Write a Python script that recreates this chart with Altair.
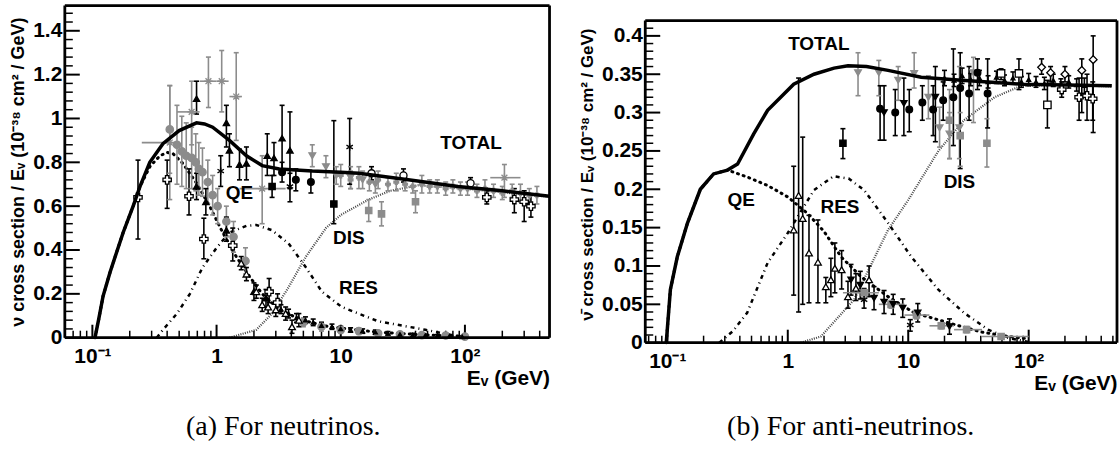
import altair as alt
import pandas as pd

# ======================= curves, panel (a) neutrinos =======================
A_TOTAL_E = [0.105, 0.113, 0.122, 0.139, 0.177, 0.213, 0.242, 0.29, 0.37, 0.5, 0.69, 0.8, 0.93, 1.27, 1.74, 2.33, 3.2, 5.9, 10, 14, 35, 88, 200, 480]
A_TOTAL_S = [0.0, 0.09, 0.19, 0.30, 0.48, 0.60, 0.69, 0.80, 0.885, 0.945, 0.98, 0.975, 0.96, 0.90, 0.83, 0.785, 0.77, 0.76, 0.755, 0.75, 0.72, 0.69, 0.67, 0.645]
A_QE_E = [0.105, 0.113, 0.122, 0.139, 0.177, 0.213, 0.242, 0.29, 0.35, 0.40, 0.445, 0.535, 0.69, 0.88, 1.12, 1.44, 1.84, 2.33, 3.2, 4.9, 8, 20, 50, 100]
A_QE_S = [0.0, 0.09, 0.19, 0.30, 0.48, 0.60, 0.69, 0.78, 0.83, 0.845, 0.84, 0.795, 0.705, 0.60, 0.48, 0.37, 0.28, 0.20, 0.127, 0.08, 0.05, 0.025, 0.012, 0.007]
A_RES_E = [0.33, 0.37, 0.48, 0.61, 0.77, 1.0, 1.27, 1.74, 2.09, 2.8, 3.8, 5.25, 7.05, 10.2, 20, 48, 90]
A_RES_S = [0.0, 0.036, 0.11, 0.20, 0.32, 0.41, 0.48, 0.51, 0.514, 0.49, 0.43, 0.32, 0.21, 0.14, 0.075, 0.036, 0.005]
A_DIS_E = [1.27, 2.09, 2.8, 3.8, 5.25, 7.6, 10, 16.8, 25, 42, 100, 200, 480]
A_DIS_S = [0.0, 0.036, 0.11, 0.23, 0.37, 0.50, 0.56, 0.63, 0.67, 0.695, 0.68, 0.663, 0.643]

# ======================= curves, panel (b) anti-neutrinos =======================
B_TOTAL_E = [0.098, 0.106, 0.121, 0.147, 0.188, 0.242, 0.316, 0.383, 0.52, 0.68, 1.12, 1.65, 2.42, 3.16, 4.5, 6.8, 12.8, 27.7, 87, 490]
B_TOTAL_S = [0.0, 0.069, 0.112, 0.156, 0.20, 0.22, 0.225, 0.233, 0.272, 0.303, 0.337, 0.35, 0.358, 0.361, 0.36, 0.355, 0.346, 0.342, 0.337, 0.335]
B_QE_E = [0.098, 0.106, 0.121, 0.147, 0.188, 0.242, 0.316, 0.46, 0.68, 1.0, 1.47, 2.0, 2.77, 4.06, 6.8, 11.2, 21.5, 40, 68, 100]
B_QE_S = [0.0, 0.069, 0.112, 0.156, 0.20, 0.22, 0.225, 0.216, 0.205, 0.19, 0.168, 0.145, 0.112, 0.086, 0.06, 0.039, 0.026, 0.014, 0.008, 0.005]
B_RES_E = [0.27, 0.35, 0.46, 0.68, 1.0, 1.65, 2.4, 3.2, 4.3, 6.8, 10.6, 17.8, 29, 46, 68, 100]
B_RES_S = [0.0, 0.015, 0.039, 0.104, 0.143, 0.199, 0.217, 0.214, 0.199, 0.156, 0.112, 0.069, 0.039, 0.017, 0.006, 0.001]
B_DIS_E = [1.28, 1.88, 3.55, 6.8, 10, 17.8, 29, 52, 87, 200, 490]
B_DIS_S = [0.0, 0.008, 0.056, 0.147, 0.186, 0.25, 0.29, 0.32, 0.335, 0.336, 0.334]

# ======================= data points, panel (a) =======================
A_GSTAR_E = [0.42, 0.63, 0.86, 1.1, 1.44, 2.33, 208]
A_GSTAR_S = [0.89, 1.03, 1.17, 1.17, 1.10, 0.68, 0.73]
A_GSTAR_LO = [0.63, 0.88, 1.05, 1.03, 0.90, 0.52, 0.64]
A_GSTAR_HI = [1.15, 1.17, 1.28, 1.31, 1.30, 0.83, 0.79]
A_GSTAR_XLO = [0.25, 0.48, 0.73, 1.0, 1.27, 1.53, 160]
A_GSTAR_XHI = [0.5, 0.73, 1.0, 1.25, 1.6, 3.6, 280]

A_GCIRC_E = [0.42, 0.48, 0.525, 0.57, 0.63, 0.68, 0.72, 0.77, 0.85, 0.93, 1.02, 1.2, 1.37, 1.71, 5.0, 7.0, 10, 14, 20, 30, 45, 70, 100]
A_GCIRC_S = [0.95, 0.88, 0.85, 0.83, 0.82, 0.80, 0.77, 0.755, 0.71, 0.65, 0.60, 0.53, 0.46, 0.35, 0.07, 0.05, 0.035, 0.03, 0.02, 0.015, 0.012, 0.01, 0.005]
A_GCIRC_ERR = [0.2, 0.18, 0.16, 0.15, 0.14, 0.13, 0.12, 0.11, 0.1, 0.09, 0.08, 0.07, 0.07, 0.06, 0.02, 0.02, 0.015, 0.015, 0.01, 0.01, 0.01, 0.01, 0.01]

A_BTRI_E = [0.69, 1.2, 1.27, 1.53, 1.74, 2.56, 2.9, 3.37, 3.9, 0.69, 0.82, 1.2, 2.0, 2.5]
A_BTRI_S = [1.09, 0.98, 0.855, 0.79, 0.795, 0.83, 0.82, 0.91, 0.855, 0.69, 0.62, 0.49, 0.21, 0.18]
A_BTRI_LO = [1.02, 0.87, 0.78, 0.72, 0.72, 0.74, 0.74, 0.76, 0.68, 0.63, 0.56, 0.44, 0.17, 0.14]
A_BTRI_HI = [1.17, 1.06, 0.93, 0.86, 0.87, 0.93, 0.89, 1.06, 1.03, 0.75, 0.68, 0.55, 0.25, 0.22]

A_OCROSS_E = [0.233, 0.4, 0.6, 0.79, 1.35, 2.65, 3.1, 150, 250, 300, 340]
A_OCROSS_S = [0.64, 0.72, 0.645, 0.45, 0.42, 0.21, 0.16, 0.64, 0.63, 0.62, 0.60]
A_OCROSS_LO = [0.45, 0.59, 0.56, 0.36, 0.35, 0.16, 0.12, 0.61, 0.57, 0.53, 0.55]
A_OCROSS_HI = [0.81, 0.81, 0.77, 0.545, 0.50, 0.27, 0.20, 0.67, 0.68, 0.67, 0.65]

A_OTRI_E = [1.58, 1.74, 2.09, 2.33, 2.6, 3.0, 3.6, 4.05, 4.6]
A_OTRI_S = [0.34, 0.29, 0.21, 0.15, 0.14, 0.127, 0.11, 0.05, 0.08]
A_OTRI_ERR = [0.03, 0.03, 0.03, 0.03, 0.03, 0.03, 0.03, 0.03, 0.03]

A_BCIRC_E = [3.37, 4.35, 5.75]
A_BCIRC_S = [0.755, 0.72, 0.71]
A_BCIRC_ERR = [0.045, 0.05, 0.05]

A_BSTAR_E = [1.08, 3.9, 11.8]
A_BSTAR_S = [0.76, 0.69, 0.87]
A_BSTAR_LO = [0.69, 0.62, 0.70]
A_BSTAR_HI = [0.83, 0.75, 1.0]

A_GSQ_E = [16.8, 21.3, 40]
A_GSQ_S = [0.58, 0.565, 0.62]
A_GSQ_ERR = [0.05, 0.055, 0.05]

A_BSQ_E = [2.8, 8.8]
A_BSQ_S = [0.69, 0.61]
A_BSQ_LO = [0.64, 0.52]
A_BSQ_HI = [0.74, 0.99]

A_GDTRI_E = [5.9, 7.6, 9.2, 12, 15, 19]
A_GDTRI_S = [0.83, 0.78, 0.74, 0.73, 0.72, 0.70]
A_GDTRI_ERR = [0.05, 0.05, 0.04, 0.05, 0.04, 0.04]

A_OCIRC_E = [17.7, 32, 111]
A_OCIRC_S = [0.75, 0.74, 0.705]
A_OCIRC_ERR = [0.03, 0.03, 0.025]

A_DENSE_E = [10, 12, 14, 17, 20, 24, 28, 33, 38, 45, 52, 60, 70, 80, 92, 105, 125, 145, 170, 200, 240, 280, 330, 380]
A_DENSE_S = [0.74, 0.72, 0.73, 0.71, 0.72, 0.70, 0.71, 0.70, 0.69, 0.70, 0.69, 0.69, 0.68, 0.69, 0.68, 0.68, 0.67, 0.68, 0.67, 0.66, 0.67, 0.66, 0.65, 0.65]
A_DENSE_ERR = [0.05, 0.04, 0.05, 0.04, 0.04, 0.03, 0.04, 0.03, 0.03, 0.04, 0.03, 0.03, 0.03, 0.03, 0.03, 0.03, 0.03, 0.04, 0.03, 0.03, 0.03, 0.04, 0.03, 0.04]

A_LOW_E = [3.3, 3.8, 4.4, 5.2, 6, 7, 8.5, 10, 12, 15, 19, 24, 30, 38, 48, 60, 75, 95]
A_LOW_S = [0.13, 0.11, 0.09, 0.08, 0.07, 0.055, 0.05, 0.04, 0.035, 0.03, 0.025, 0.02, 0.015, 0.012, 0.01, 0.008, 0.006, 0.004]
A_LOW_ERR = [0.02, 0.02, 0.02, 0.015, 0.015, 0.015, 0.012, 0.012, 0.01, 0.01, 0.01, 0.008, 0.008, 0.008, 0.006, 0.006, 0.005, 0.005]

# ======================= data points, panel (b) =======================
B_GDTRI_E = [3.83, 5.7, 8.25, 11.2, 14.7, 18.2, 22, 26.6, 34.8]
B_GDTRI_S = [0.352, 0.352, 0.342, 0.351, 0.32, 0.28, 0.272, 0.28, 0.352]
B_GDTRI_LO = [0.322, 0.322, 0.316, 0.332, 0.292, 0.255, 0.24, 0.24, 0.287]
B_GDTRI_HI = [0.378, 0.368, 0.36, 0.378, 0.348, 0.307, 0.30, 0.36, 0.372]

B_BCIRC_E = [5.84, 7.8, 10.2, 13.1, 16.1, 19.5, 23.7, 27, 32, 37.6, 45.6]
B_BCIRC_S = [0.305, 0.30, 0.304, 0.313, 0.304, 0.316, 0.32, 0.332, 0.325, 0.352, 0.325]
B_BCIRC_LO = [0.264, 0.27, 0.275, 0.29, 0.27, 0.29, 0.257, 0.227, 0.29, 0.33, 0.28]
B_BCIRC_HI = [0.335, 0.33, 0.33, 0.335, 0.335, 0.34, 0.383, 0.378, 0.36, 0.37, 0.37]

B_BDTRI_E = [6.3, 9.2, 16.8]
B_BDTRI_S = [0.30, 0.312, 0.32]
B_BDTRI_LO = [0.264, 0.27, 0.262]
B_BDTRI_HI = [0.335, 0.345, 0.36]

B_BSQ_E = [2.87]
B_BSQ_S = [0.26]
B_BSQ_LO = [0.24]
B_BSQ_HI = [0.279]

B_GSQ_E = [22, 27, 45]
B_GSQ_S = [0.29, 0.27, 0.26]
B_GSQ_LO = [0.24, 0.23, 0.229]
B_GSQ_HI = [0.33, 0.30, 0.292]

B_OSQ_E = [59, 83, 143]
B_OSQ_S = [0.351, 0.351, 0.31]
B_OSQ_LO = [0.343, 0.33, 0.28]
B_OSQ_HI = [0.357, 0.37, 0.342]

B_ODIAM_E = [128, 152, 200, 276, 343]
B_ODIAM_S = [0.359, 0.352, 0.35, 0.355, 0.369]
B_ODIAM_LO = [0.35, 0.34, 0.34, 0.30, 0.274]
B_ODIAM_HI = [0.37, 0.36, 0.36, 0.37, 0.40]

B_OCROSS_E = [188, 262, 305, 340]
B_OCROSS_S = [0.33, 0.32, 0.322, 0.318]
B_OCROSS_LO = [0.32, 0.29, 0.29, 0.29]
B_OCROSS_HI = [0.34, 0.345, 0.35, 0.34]

B_DENSE_E = [20, 24, 28, 33, 39, 46, 54, 63, 74, 87, 100, 115, 135, 160, 185, 215, 250, 290]
B_DENSE_S = [0.345, 0.342, 0.348, 0.343, 0.345, 0.34, 0.346, 0.342, 0.345, 0.34, 0.343, 0.34, 0.338, 0.342, 0.337, 0.34, 0.336, 0.335]
B_DENSE_ERR = [0.01, 0.008, 0.01, 0.008, 0.01, 0.008, 0.008, 0.007, 0.008, 0.007, 0.008, 0.007, 0.008, 0.008, 0.007, 0.008, 0.008, 0.01]

B_OTRI_E = [1.12, 1.23, 1.33, 1.5, 1.78, 2.07, 2.28, 2.46, 2.8, 3.16, 3.68, 4.73]
B_OTRI_S = [0.147, 0.192, 0.162, 0.117, 0.105, 0.073, 0.082, 0.097, 0.095, 0.06, 0.071, 0.082]
B_OTRI_LO = [0.062, 0.04, 0.05, 0.052, 0.052, 0.052, 0.06, 0.065, 0.07, 0.045, 0.055, 0.06]
B_OTRI_HI = [0.23, 0.345, 0.268, 0.166, 0.16, 0.085, 0.11, 0.13, 0.12, 0.08, 0.09, 0.10]

B_BDTRI2_E = [3.35, 4.0, 5.2, 6.3, 7.5, 9, 12, 22]
B_BDTRI2_S = [0.082, 0.075, 0.058, 0.053, 0.05, 0.045, 0.039, 0.021]
B_BDTRI2_ERR = [0.02, 0.018, 0.015, 0.015, 0.013, 0.012, 0.012, 0.01]

B_GSQ2_E = [4.3, 7.2, 11.7, 18.8, 30.5, 59]
B_GSQ2_S = [0.065, 0.05, 0.036, 0.022, 0.017, 0.008]
B_GSQ2_ERR = [0.006, 0.005, 0.005, 0.004, 0.004, 0.003]
B_GSQ2_XLO = [2.87, 5.7, 9.3, 15, 24, 41]
B_GSQ2_XHI = [5.7, 9.3, 15, 24, 41, 100]

B_BSTAR_E = [4.3, 10.4]
B_BSTAR_S = [0.056, 0.023]
B_BSTAR_LO = [0.045, 0.015]
B_BSTAR_HI = [0.07, 0.03]

# ======================= axis ticks / labels =======================
A_YMAJOR = [0, 0.2, 0.4, 0.6, 0.8, 1.0, 1.2, 1.4]
A_YMINOR = [round(0.04 * i, 2) for i in range(38) if i % 5 != 0]
B_YMAJOR = [0, 0.05, 0.1, 0.15, 0.2, 0.25, 0.3, 0.35, 0.4]
B_YMINOR = [round(0.01 * i, 2) for i in range(42) if i % 5 != 0]
X_MAJOR = [0.1, 1, 10, 100]
A_XMINOR = [0.06, 0.07, 0.08, 0.09] + [m * d for d in (0.1, 1, 10) for m in range(2, 10)] + [200, 300, 400]
B_XMINOR = [0.07, 0.08, 0.09] + [m * d for d in (0.1, 1, 10) for m in range(2, 10)] + [200, 300, 400, 500]

A_LABEL_TEXT = ["TOTAL", "QE", "DIS", "RES"]
A_LABEL_E = [112, 1.53, 11.6, 13.9]
A_LABEL_S = [0.886, 0.66, 0.455, 0.227]
B_LABEL_TEXT = ["TOTAL", "QE", "RES", "DIS"]
B_LABEL_E = [1.81, 0.41, 2.71, 26.6]
B_LABEL_S = [0.39, 0.186, 0.177, 0.209]

GRAY = "#8c8c8c"
ASTER = "M-1,0L1,0M0,-1L0,1M-0.7,-0.7L0.7,0.7M-0.7,0.7L0.7,-0.7"
STAR6 = "M0,-1L0,1M-0.87,-0.5L0.87,0.5M-0.87,0.5L0.87,-0.5"
STYLES = {
    "gstar": dict(shape=ASTER, fill=GRAY, stroke=GRAY, size=70, bar=GRAY),
    "gcirc": dict(shape="circle", fill=GRAY, stroke=GRAY, size=55, bar=GRAY),
    "btri": dict(shape="triangle-up", fill="black", stroke="black", size=40, bar="black"),
    "ocross": dict(shape="cross", fill="white", stroke="black", size=70, bar="black"),
    "otri": dict(shape="triangle-up", fill="white", stroke="black", size=45, bar="black"),
    "bcirc": dict(shape="circle", fill="black", stroke="black", size=45, bar="black"),
    "bstar": dict(shape=STAR6, fill="black", stroke="black", size=55, bar="black"),
    "gsq": dict(shape="square", fill=GRAY, stroke=GRAY, size=40, bar=GRAY),
    "bsq": dict(shape="square", fill="black", stroke="black", size=40, bar="black"),
    "gdtri": dict(shape="triangle-down", fill=GRAY, stroke=GRAY, size=45, bar=GRAY),
    "bdtri": dict(shape="triangle-down", fill="black", stroke="black", size=40, bar="black"),
    "ocirc": dict(shape="circle", fill="white", stroke="black", size=50, bar="black"),
    "osq": dict(shape="square", fill="white", stroke="black", size=55, bar="black"),
    "odiam": dict(shape="diamond", fill="white", stroke="black", size=60, bar="black"),
    "gsmall": dict(shape="cross", fill=GRAY, stroke=GRAY, size=22, bar=GRAY),
    "bsmall": dict(shape="triangle-up", fill="black", stroke="black", size=16, bar="black"),
}


def sym(E, S, ERR):
    return [s - e for s, e in zip(S, ERR)], [s + e for s, e in zip(S, ERR)]


def build(series):
    rows = []
    for sty, E, S, LO, HI, XLO, XHI in series:
        st = STYLES[sty]
        for i in range(len(E)):
            rows.append(dict(E=E[i], s=S[i], lo=LO[i], hi=HI[i],
                             xlo=XLO[i] if XLO else None, xhi=XHI[i] if XHI else None,
                             shape=st["shape"], fill=st["fill"], stroke=st["stroke"],
                             size=st["size"], bar=st["bar"]))
    return pd.DataFrame(rows)


A_SERIES = [
    ("gcirc", A_GCIRC_E, A_GCIRC_S, *sym(A_GCIRC_E, A_GCIRC_S, A_GCIRC_ERR), None, None),
    ("gstar", A_GSTAR_E, A_GSTAR_S, A_GSTAR_LO, A_GSTAR_HI, A_GSTAR_XLO, A_GSTAR_XHI),
    ("gsmall", A_DENSE_E, A_DENSE_S, *sym(A_DENSE_E, A_DENSE_S, A_DENSE_ERR), None, None),
    ("gdtri", A_GDTRI_E, A_GDTRI_S, *sym(A_GDTRI_E, A_GDTRI_S, A_GDTRI_ERR), None, None),
    ("gsq", A_GSQ_E, A_GSQ_S, *sym(A_GSQ_E, A_GSQ_S, A_GSQ_ERR), None, None),
    ("bsmall", A_LOW_E, A_LOW_S, *sym(A_LOW_E, A_LOW_S, A_LOW_ERR), None, None),
    ("btri", A_BTRI_E, A_BTRI_S, A_BTRI_LO, A_BTRI_HI, None, None),
    ("ocross", A_OCROSS_E, A_OCROSS_S, A_OCROSS_LO, A_OCROSS_HI, None, None),
    ("otri", A_OTRI_E, A_OTRI_S, *sym(A_OTRI_E, A_OTRI_S, A_OTRI_ERR), None, None),
    ("bcirc", A_BCIRC_E, A_BCIRC_S, *sym(A_BCIRC_E, A_BCIRC_S, A_BCIRC_ERR), None, None),
    ("bstar", A_BSTAR_E, A_BSTAR_S, A_BSTAR_LO, A_BSTAR_HI, None, None),
    ("bsq", A_BSQ_E, A_BSQ_S, A_BSQ_LO, A_BSQ_HI, None, None),
    ("ocirc", A_OCIRC_E, A_OCIRC_S, *sym(A_OCIRC_E, A_OCIRC_S, A_OCIRC_ERR), None, None),
]
B_SERIES = [
    ("gdtri", B_GDTRI_E, B_GDTRI_S, B_GDTRI_LO, B_GDTRI_HI, None, None),
    ("gsq", B_GSQ_E, B_GSQ_S, B_GSQ_LO, B_GSQ_HI, None, None),
    ("gsq", B_GSQ2_E, B_GSQ2_S, *sym(B_GSQ2_E, B_GSQ2_S, B_GSQ2_ERR), B_GSQ2_XLO, B_GSQ2_XHI),
    ("bsmall", B_DENSE_E, B_DENSE_S, *sym(B_DENSE_E, B_DENSE_S, B_DENSE_ERR), None, None),
    ("bcirc", B_BCIRC_E, B_BCIRC_S, B_BCIRC_LO, B_BCIRC_HI, None, None),
    ("bdtri", B_BDTRI_E, B_BDTRI_S, B_BDTRI_LO, B_BDTRI_HI, None, None),
    ("bdtri", B_BDTRI2_E, B_BDTRI2_S, *sym(B_BDTRI2_E, B_BDTRI2_S, B_BDTRI2_ERR), None, None),
    ("bsq", B_BSQ_E, B_BSQ_S, B_BSQ_LO, B_BSQ_HI, None, None),
    ("osq", B_OSQ_E, B_OSQ_S, B_OSQ_LO, B_OSQ_HI, None, None),
    ("odiam", B_ODIAM_E, B_ODIAM_S, B_ODIAM_LO, B_ODIAM_HI, None, None),
    ("ocross", B_OCROSS_E, B_OCROSS_S, B_OCROSS_LO, B_OCROSS_HI, None, None),
    ("otri", B_OTRI_E, B_OTRI_S, B_OTRI_LO, B_OTRI_HI, None, None),
    ("bstar", B_BSTAR_E, B_BSTAR_S, B_BSTAR_LO, B_BSTAR_HI, None, None),
]

FONT = "Liberation Sans"
XLABEL_EXPR = "datum.value < 0.5 ? '10\u207b\u00b9' : datum.value < 5 ? '1' : datum.value < 50 ? '10' : '10\u00b2'"


def panel(curves, series, xdom, ydom, ymaj, ymin, xmin, lab_t, lab_e, lab_s,
          W, H, frame_top, ytitle, caption, cap_x, cap_y, ytitle_size):
    xs = alt.Scale(type="log", domain=xdom, nice=False)
    ys = alt.Scale(domain=ydom, nice=False, zero=False)
    xaxis = alt.Axis(
        values=X_MAJOR, labelExpr=XLABEL_EXPR, ticks=False, domain=False, grid=False,
        labelFont=FONT, labelFontWeight="bold", labelFontSize=21, labelColor="black",
        labelPadding=8, labelFlush=False, title="E\u1d65 (GeV)", titleFont=FONT,
        titleFontWeight="bold", titleFontSize=21, titleColor="black", titleAnchor="end",
        titlePadding=1)
    yaxis = alt.Axis(
        values=ymaj, format="~g", ticks=False, tickSize=0, domain=False, grid=False,
        labelFont=FONT, labelFontWeight="bold", labelFontSize=21, labelColor="black",
        labelPadding=3, title=ytitle, titleFont=FONT, titleFontWeight="bold",
        titleFontSize=ytitle_size, titleColor="black", titlePadding=5)
    X = lambda f: alt.X(f, type="quantitative", scale=xs, axis=xaxis)
    Y = lambda f: alt.Y(f, type="quantitative", scale=ys, axis=yaxis)
    layers = []

    # inward ticks on the left and bottom frame
    layers.append(alt.Chart(pd.DataFrame({"v": ymaj})).mark_rule(color="black", strokeWidth=2).encode(
        y=Y("v"), x=alt.value(0), x2=alt.value(15)))
    layers.append(alt.Chart(pd.DataFrame({"v": ymin})).mark_rule(color="black", strokeWidth=1.5).encode(
        y=Y("v"), x=alt.value(0), x2=alt.value(8)))
    layers.append(alt.Chart(pd.DataFrame({"v": X_MAJOR})).mark_rule(color="black", strokeWidth=2).encode(
        x=X("v"), y=alt.value(H), y2=alt.value(H - 13)))
    layers.append(alt.Chart(pd.DataFrame({"v": xmin})).mark_rule(color="black", strokeWidth=1.5).encode(
        x=X("v"), y=alt.value(H), y2=alt.value(H - 7)))

    # curves
    tot, qe, res, dis = curves
    layers.append(alt.Chart(pd.DataFrame({"E": dis[0], "s": dis[1]})).mark_line(
        color="#444444", strokeWidth=2.2, strokeDash=[1, 1.3]).encode(x=X("E"), y=Y("s")))
    layers.append(alt.Chart(pd.DataFrame({"E": res[0], "s": res[1]})).mark_line(
        color="black", strokeWidth=2.5, strokeDash=[4, 4, 1, 4]).encode(x=X("E"), y=Y("s")))
    layers.append(alt.Chart(pd.DataFrame({"E": qe[0], "s": qe[1]})).mark_line(
        color="black", strokeWidth=3, strokeDash=[1, 5], strokeCap="round").encode(x=X("E"), y=Y("s")))

    # data points with error bars
    pts = build(series)
    bars = alt.Chart(pts)
    layers.append(bars.mark_rule(strokeWidth=1.6).encode(
        x=X("E"), y=Y("lo"), y2="hi", color=alt.Color("bar:N", scale=None)))
    layers.append(bars.transform_filter("isValid(datum.xlo)").mark_rule(strokeWidth=1.6).encode(
        x=X("xlo"), x2="xhi", y=Y("s"), color=alt.Color("bar:N", scale=None)))
    for f in ("lo", "hi"):
        layers.append(bars.mark_point(shape="stroke", size=25, strokeWidth=1.6, opacity=1).encode(
            x=X("E"), y=Y(f), stroke=alt.Stroke("bar:N", scale=None)))
    layers.append(bars.mark_point(filled=True, strokeWidth=1.3, opacity=1).encode(
        x=X("E"), y=Y("s"),
        shape=alt.Shape("shape:N", scale=None),
        fill=alt.Fill("fill:N", scale=None),
        stroke=alt.Stroke("stroke:N", scale=None),
        size=alt.Size("size:Q", scale=None)))

    # total on top
    layers.append(alt.Chart(pd.DataFrame({"E": tot[0], "s": tot[1]})).mark_line(
        color="black", strokeWidth=3.5).encode(x=X("E"), y=Y("s")))

    # labels
    layers.append(alt.Chart(pd.DataFrame({"t": lab_t, "E": lab_e, "s": lab_s})).mark_text(
        font=FONT, fontWeight="bold", fontSize=19, color="black").encode(
        x=X("E"), y=Y("s"), text="t:N"))

    # frame
    one = pd.DataFrame({"k": [0]})
    fr = alt.Chart(one)
    top = alt.datum(frame_top, scale=ys)
    layers.append(fr.mark_rule(color="black", strokeWidth=2.8).encode(
        x=alt.value(0), x2=alt.value(W), y=top))
    layers.append(fr.mark_rule(color="black", strokeWidth=2.8).encode(
        x=alt.value(0), x2=alt.value(W), y=alt.value(H)))
    layers.append(fr.mark_rule(color="black", strokeWidth=2.8).encode(
        x=alt.value(0), y=top, y2=alt.value(H)))
    layers.append(fr.mark_rule(color="black", strokeWidth=2.8).encode(
        x=alt.value(W), y=top, y2=alt.value(H)))

    # caption
    layers.append(fr.mark_text(font="Liberation Serif", fontSize=28, color="black").encode(
        x=alt.value(cap_x), y=alt.value(cap_y), text=alt.value(caption)))

    return alt.layer(*layers).properties(width=W, height=H)


WA, HA = 486, 333
WB, HB = 473, 338
B_FRAME_TOP = 0.42
B_YDOM_TOP = B_FRAME_TOP * HB / (HB - 15)

pa = panel(((A_TOTAL_E, A_TOTAL_S), (A_QE_E, A_QE_S), (A_RES_E, A_RES_S), (A_DIS_E, A_DIS_S)),
           A_SERIES, [0.06, 480], [0, 1.515], A_YMAJOR, A_YMINOR, A_XMINOR,
           A_LABEL_TEXT, A_LABEL_E, A_LABEL_S, WA, HA, 1.515,
           "\u03bd cross section / E\u1d65 (10\u207b\u00b3\u2078 cm\u00b2 / GeV)",
           "(a) For neutrinos.", 219, 423, 18)
pb = panel(((B_TOTAL_E, B_TOTAL_S), (B_QE_E, B_QE_S), (B_RES_E, B_RES_S), (B_DIS_E, B_DIS_S)),
           B_SERIES, [0.0656, 541], [0, B_YDOM_TOP], B_YMAJOR, B_YMINOR, B_XMINOR,
           B_LABEL_TEXT, B_LABEL_E, B_LABEL_S, WB, HB, B_FRAME_TOP,
           "\u03bd\u0304 cross section / E\u1d65 (10\u207b\u00b3\u2078 cm\u00b2 / GeV)",
           "(b) For anti-neutrinos.", 206, 423, 17)

chart = alt.hconcat(pa, pb, spacing=22).properties(
    padding={"left": 9, "top": 3, "right": 0, "bottom": 0}
).configure_view(strokeWidth=0, stroke="transparent")

chart.save("out.html", embed_options={"renderer": "svg", "actions": False})
